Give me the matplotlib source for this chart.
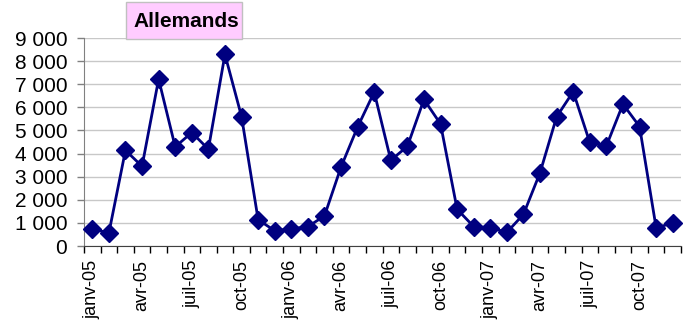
import matplotlib
matplotlib.use("Agg")
import matplotlib.pyplot as plt
from matplotlib.patches import Rectangle

plt.rcParams['font.family'] = ['Liberation Sans', 'DejaVu Sans']

months = ["janv", "févr", "mars", "avr", "mai", "juin", "juil", "août", "sept", "oct", "nov", "déc"]
years = ["05", "06", "07"]
categories = [f"{m}-{y}" for y in years for m in months]
values = [750, 560, 4140, 3450, 7220, 4290, 4910, 4190, 8290, 5600, 1140, 660,
          740, 840, 1300, 3420, 5150, 6660, 3710, 4310, 6340, 5280, 1590, 840,
          790, 590, 1370, 3170, 5590, 6680, 4480, 4330, 6140, 5170, 790, 990]
title = "Allemands"
yticks = list(range(0, 9001, 1000))
ytick_labels = [f"{v:,}".replace(",", " ") for v in yticks]

W, H = 694, 329
fig = plt.figure(figsize=(W/100, H/100), dpi=100)
ax = fig.add_axes([84/W, 1-246/H, (681-84)/W, (246-38)/H])

x = list(range(len(values)))
ax.plot(x, values, color="#000080", lw=2, marker="D", markersize=9.5, zorder=3, clip_on=False)

ax.set_ylim(0, 9000)
ax.set_xlim(-0.5, len(values) - 0.5)
ax.set_yticks(yticks)
ax.set_yticklabels(ytick_labels, fontsize=15)
ax.yaxis.grid(True, color="#c8c8c8", lw=1)
ax.set_axisbelow(True)

major = x[::3]
ax.set_xticks(major)
ax.set_xticklabels([categories[i] for i in major], rotation=90, fontsize=13)
ax.tick_params(axis="x", which="major", length=0, pad=10)
ax.set_xticks([i - 0.5 for i in range(len(values) + 1)], minor=True)
ax.tick_params(axis="x", which="minor", length=5, color="black", width=1)
ax.tick_params(axis="y", length=5, width=1, color="#808080", pad=7)

for s in ["top", "right"]:
    ax.spines[s].set_visible(False)
ax.spines["left"].set_color("#808080")
ax.spines["bottom"].set_color("#404040")

fig.patches.append(Rectangle((126/W, 1-39/H), 116/W, 37/H, transform=fig.transFigure,
                             facecolor="#ffccff", edgecolor="#c0c0c0", lw=1, zorder=5))
fig.text(186/W, 1-21.5/H, title, fontsize=15, fontweight="bold", ha="center", va="center", zorder=6)

fig.savefig("out.png", dpi=100)
